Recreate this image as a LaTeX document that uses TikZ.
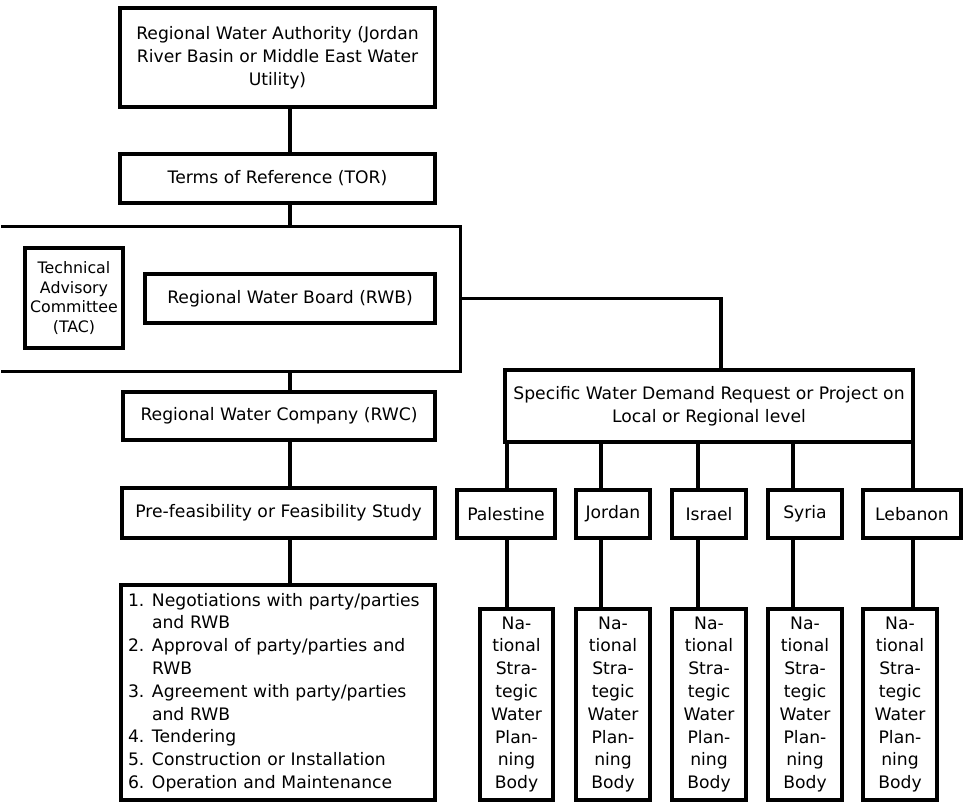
\documentclass[tikz,border=0pt]{standalone}
\usepackage{fontspec}
\setsansfont{DejaVu Sans}

\begin{document}
\begin{tikzpicture}[x=1pt, y=-1pt, font=\sffamily\fontsize{17.2}{22.8}\selectfont,
	box/.style={draw, line width=3.3pt, inner sep=0pt, align=center},
	link/.style={line width=3.3pt}]
	\def\NSWPB{Na-\\tional\\Stra-\\tegic\\Water\\Plan-\\ning\\Body}

	\useasboundingbox (0,0) rectangle (968,802);

	\coordinate (Spine) at (290,0);
	\coordinate (Drop) at (721,0);

	\node[box, minimum width=315pt, minimum height=99pt] (RWA) at (277.5,57.5) {Regional Water Authority (Jordan\\River Basin or Middle East Water\\Utility)};
	\node[box, minimum width=315pt, minimum height=49pt] (TOR) at (277.5,178.5) {Terms of Reference (TOR)};
	\node[minimum width=459pt, minimum height=144pt, inner sep=0pt] (Zone) at (230.5,299) {};
	\node[box, minimum width=98pt, minimum height=100pt, font=\sffamily\fontsize{15.8}{19.5}\selectfont] (TAC) at (74,298) {Technical\\Advisory\\Committee\\(TAC)};
	\node[box, minimum width=290pt, minimum height=49pt] (RWB) at (290,298.5) {Regional Water Board (RWB)};
	\node[box, minimum width=312pt, minimum height=48pt] (RWC) at (279,416) {Regional Water Company (RWC)};
	\node[box, minimum width=313pt, minimum height=50pt] (PFS) at (278.5,513) {Pre-feasibility or Feasibility Study};
	\node[box, minimum width=314pt, minimum height=215pt, text width=300pt, align=left] (Steps) at (278,692.5) {%
		\makebox[24pt][l]{1.}Negotiations with party/parties\\
		\hspace*{24pt}and RWB\\
		\makebox[24pt][l]{2.}Approval of party/parties and\\
		\hspace*{24pt}RWB\\
		\makebox[24pt][l]{3.}Agreement with party/parties\\
		\hspace*{24pt}and RWB\\
		\makebox[24pt][l]{4.}Tendering\\
		\makebox[24pt][l]{5.}Construction or Installation\\
		\makebox[24pt][l]{6.}Operation and Maintenance};
	\node[box, minimum width=408pt, minimum height=72pt] (SWD) at (709,406) {Specific Water Demand Request or Project on\\Local or Regional level};

	\draw[link]	(RWA.south -| Spine) -- (TOR.north -| Spine);
	\draw[link]	(TOR.south -| Spine) -- (Zone.north -| Spine);
	\draw[link]	(Zone.north west) -- (Zone.north east) -- (Zone.south east) -- (Zone.south west);
	\draw[link]	(Zone.south -| Spine) -- (RWC.north -| Spine);
	\draw[link]	(RWC.south -| Spine) -- (PFS.north -| Spine);
	\draw[link]	(PFS.south -| Spine) -- (Steps.north -| Spine);
	\draw[link]	(Zone.east |- RWB) -| (SWD.north -| Drop);

	\foreach \name/\lbl/\cx/\w/\nx/\nw/\tap in {Pal/Palestine/506/98/516.5/73/507, Jor/Jordan/613/74/613/74/601, Isr/Israel/709/74/709/74/698, Syr/Syria/805/74/805/74/793, Leb/Lebanon/912/98/900/74/913} {
		\node[box, minimum width=\w pt, minimum height=48pt] (\name) at (\cx,514) {\lbl};
		\node[box, minimum width=\nw pt, minimum height=191pt] (N\name) at (\nx,704.5) {\NSWPB};
		\coordinate (T\name) at (\tap,0);
		\draw[link]	(SWD.south -| T\name) -- (\name.north -| T\name);
		\draw[link]	(\name.south -| T\name) -- (N\name.north -| T\name);
	}

\end{tikzpicture}
\end{document}
